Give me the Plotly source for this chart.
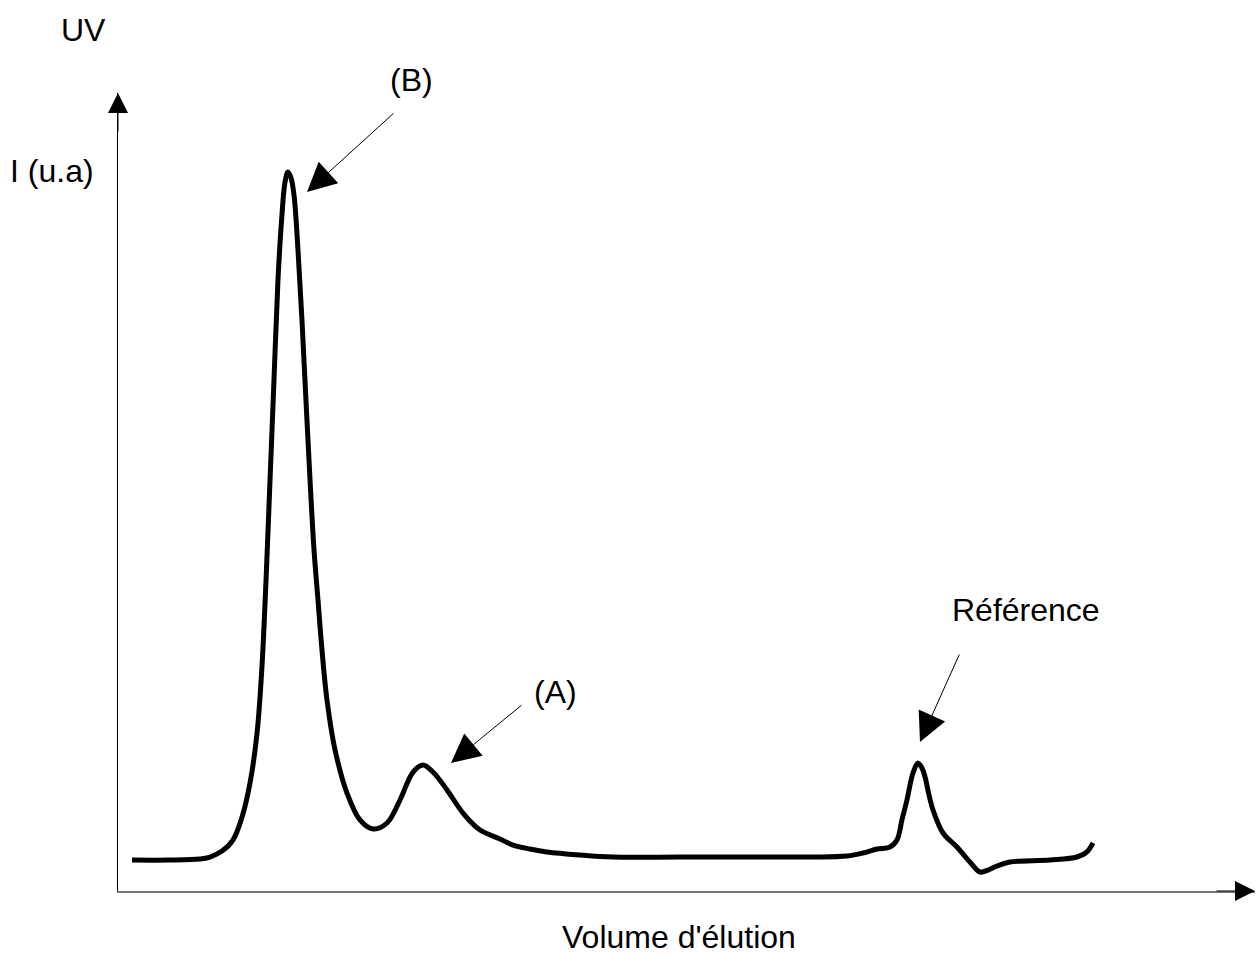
import plotly.graph_objects as go

# Elution volume (arbitrary units) and UV intensity (u.a.)
volume = [1.23, 4.57, 7.21, 8.09, 9.15, 10.11, 10.91, 11.61, 12.23, 12.66, 13.02, 13.37,
          13.72, 14.07, 14.42, 14.69, 14.95, 15.22, 15.48, 15.83, 16.18, 16.53, 16.89,
          17.24, 17.59, 17.94, 18.38, 19.09, 20.14, 21.28, 22.43, 23.66, 24.80, 25.95,
          26.83, 27.70, 28.94, 30.34, 31.84, 33.60, 34.74, 36.24, 37.73, 40.63, 43.54,
          49.43, 55.32, 61.13, 64.12, 65.52, 66.75, 67.90, 68.51, 68.95, 69.39, 69.92,
          70.36, 70.71, 70.98, 71.33, 71.68, 72.56, 73.79, 74.93, 75.81, 76.52, 77.31,
          78.45, 81.97, 84.34, 85.22, 85.75]
intensity = [3.88, 3.88, 4.01, 4.26, 5.01, 6.39, 9.27, 13.53, 19.80, 28.07, 38.97, 51.50,
             64.04, 76.57, 84.71, 88.85, 90.10, 89.35, 87.22, 80.33, 71.55, 61.53, 51.50,
             42.73, 36.47, 30.20, 23.93, 17.67, 12.28, 8.90, 7.77, 8.52, 11.40, 14.91,
             15.79, 14.91, 12.66, 9.77, 7.64, 6.52, 5.76, 5.26, 4.89, 4.51, 4.26,
             4.26, 4.26, 4.26, 4.39, 4.76, 5.26, 5.51, 6.39, 8.90, 11.40, 14.79,
             16.04, 15.41, 14.29, 12.03, 10.15, 7.27, 5.51, 3.63, 2.38, 2.63, 3.13,
             3.63, 3.88, 4.26, 4.89, 6.02]

x_title = "Volume d'élution"
y_title_top = "UV"
y_title = "I (u.a)"
peak_labels = ["(B)", "(A)", "Référence"]

FONT = "Liberation Sans, Arial, sans-serif"

fig = go.Figure()
fig.add_trace(go.Scatter(
    x=volume, y=intensity, mode="lines",
    line=dict(color="black", width=5, shape="spline", smoothing=1.0),
    hoverinfo="skip", showlegend=False,
))

W, H = 1257, 974
L, R, T, B = 118, 2, 93, 83
pw, ph = W - L - R, H - T - B


def px(x):
    return (x - L) / pw


def py(y):
    return (H - B - y) / ph


annotations = []
# text labels
for text, cx, cy in [(y_title_top, 83, 30), (y_title, 52, 171), (peak_labels[0], 411, 80),
                     (peak_labels[1], 555, 692), (peak_labels[2], 1026, 610),
                     (x_title, 679, 937)]:
    annotations.append(dict(text=text, x=px(cx), y=py(cy), xref="paper", yref="paper",
                            xanchor="center", yanchor="middle", showarrow=False,
                            font=dict(family=FONT, size=32, color="black")))

# pointer arrows (tip, tail)
for (tx, ty), (sx, sy) in [((307, 192), (395, 112)), ((451, 763), (523, 704)),
                           ((920, 742), (960, 653))]:
    annotations.append(dict(text="", x=px(tx), y=py(ty), xref="paper", yref="paper",
                            ax=sx - tx, ay=sy - ty, showarrow=True, arrowhead=2,
                            arrowsize=5.8, arrowwidth=1, arrowcolor="black", standoff=0))

# axis arrowheads
annotations.append(dict(text="", x=0, y=1, xref="paper", yref="paper", ax=0, ay=40,
                        showarrow=True, arrowhead=2, arrowsize=4, arrowwidth=1,
                        arrowcolor="black", standoff=0))
annotations.append(dict(text="", x=1, y=0, xref="paper", yref="paper", ax=-40, ay=0,
                        showarrow=True, arrowhead=2, arrowsize=4, arrowwidth=1,
                        arrowcolor="black", standoff=0))

fig.update_layout(
    width=W, height=H,
    margin=dict(l=L, r=R, t=T, b=B),
    paper_bgcolor="white", plot_bgcolor="white",
    annotations=annotations,
    showlegend=False,
)
fig.update_xaxes(range=[0, 100], showgrid=False, zeroline=False, showticklabels=False,
                 ticks="", showline=True, linecolor="#777777", linewidth=1.5, fixedrange=True)
fig.update_yaxes(range=[0, 100], showgrid=False, zeroline=False, showticklabels=False,
                 ticks="", showline=True, linecolor="black", linewidth=1, fixedrange=True)

fig.write_html("out.html", config={"displayModeBar": False},
               post_script="document.body.style.margin='0';document.body.style.overflow='hidden';")
